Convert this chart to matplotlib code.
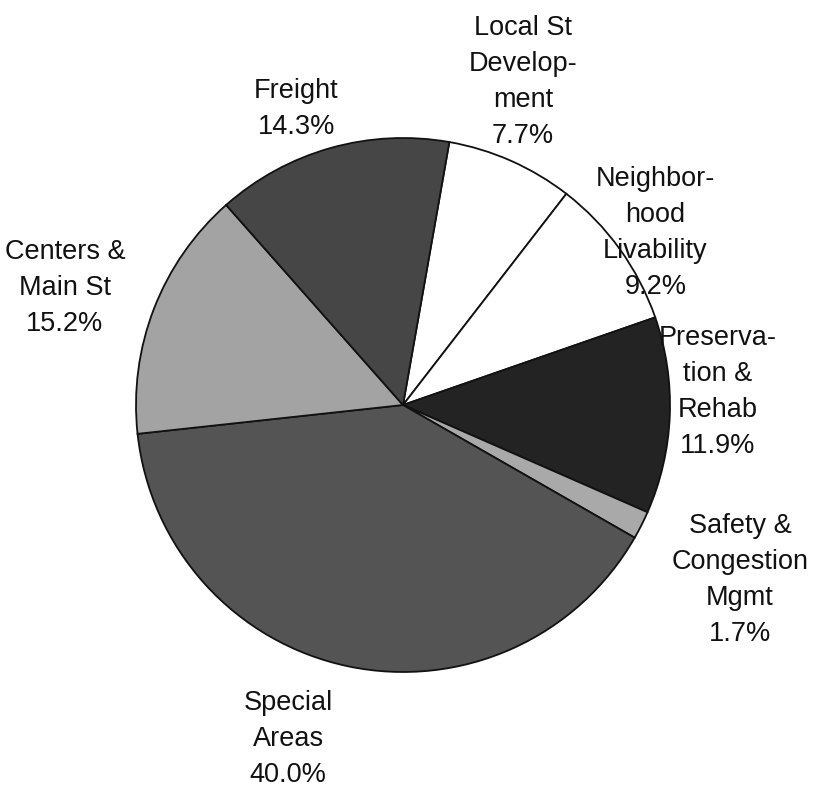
import matplotlib.pyplot as plt

# Share of program funding by category
categories = ['Local St\nDevelop-\nment', 'Neighbor-\nhood\nLivability',
              'Preserva-\ntion &\nRehab', 'Safety &\nCongestion\nMgmt',
              'Special\nAreas', 'Centers &\nMain St', 'Freight']
shares = [7.7, 9.2, 11.9, 1.7, 40.0, 15.2, 14.3]
colors = ['#ffffff', '#ffffff', '#232323', '#a9a9a9', '#545454', '#a3a3a3', '#464646']

# label anchor points in pie-radius units
label_pos = [(0.45, 1.21), (0.945, 0.645), (1.18, 0.05), (1.262, -0.655),
             (-0.43, -1.25), (-1.266, 0.44), (-0.40, 1.11)]

W, H = 820, 791
cx, cy, R = 403, 405, 267

plt.rcParams['font.family'] = ['Liberation Sans', 'DejaVu Sans']
fig = plt.figure(figsize=(W / 100, H / 100), dpi=100)
ax = fig.add_axes([0, 0, 1, 1])

ax.pie(shares, colors=colors, startangle=80, counterclock=False,
       wedgeprops=dict(edgecolor='#111111', linewidth=1.3))

for name, val, (x, y) in zip(categories, shares, label_pos):
    ax.text(x, y, f'{name}\n{val:.1f}%', ha='center', va='center',
            fontsize=19.5, linespacing=1.5, color='#111111')

ax.set_xlim(-cx / R, (W - cx) / R)
ax.set_ylim(-(H - cy) / R, cy / R)
ax.set_aspect('equal')
ax.axis('off')

fig.savefig('out.png', dpi=100, facecolor='white')
